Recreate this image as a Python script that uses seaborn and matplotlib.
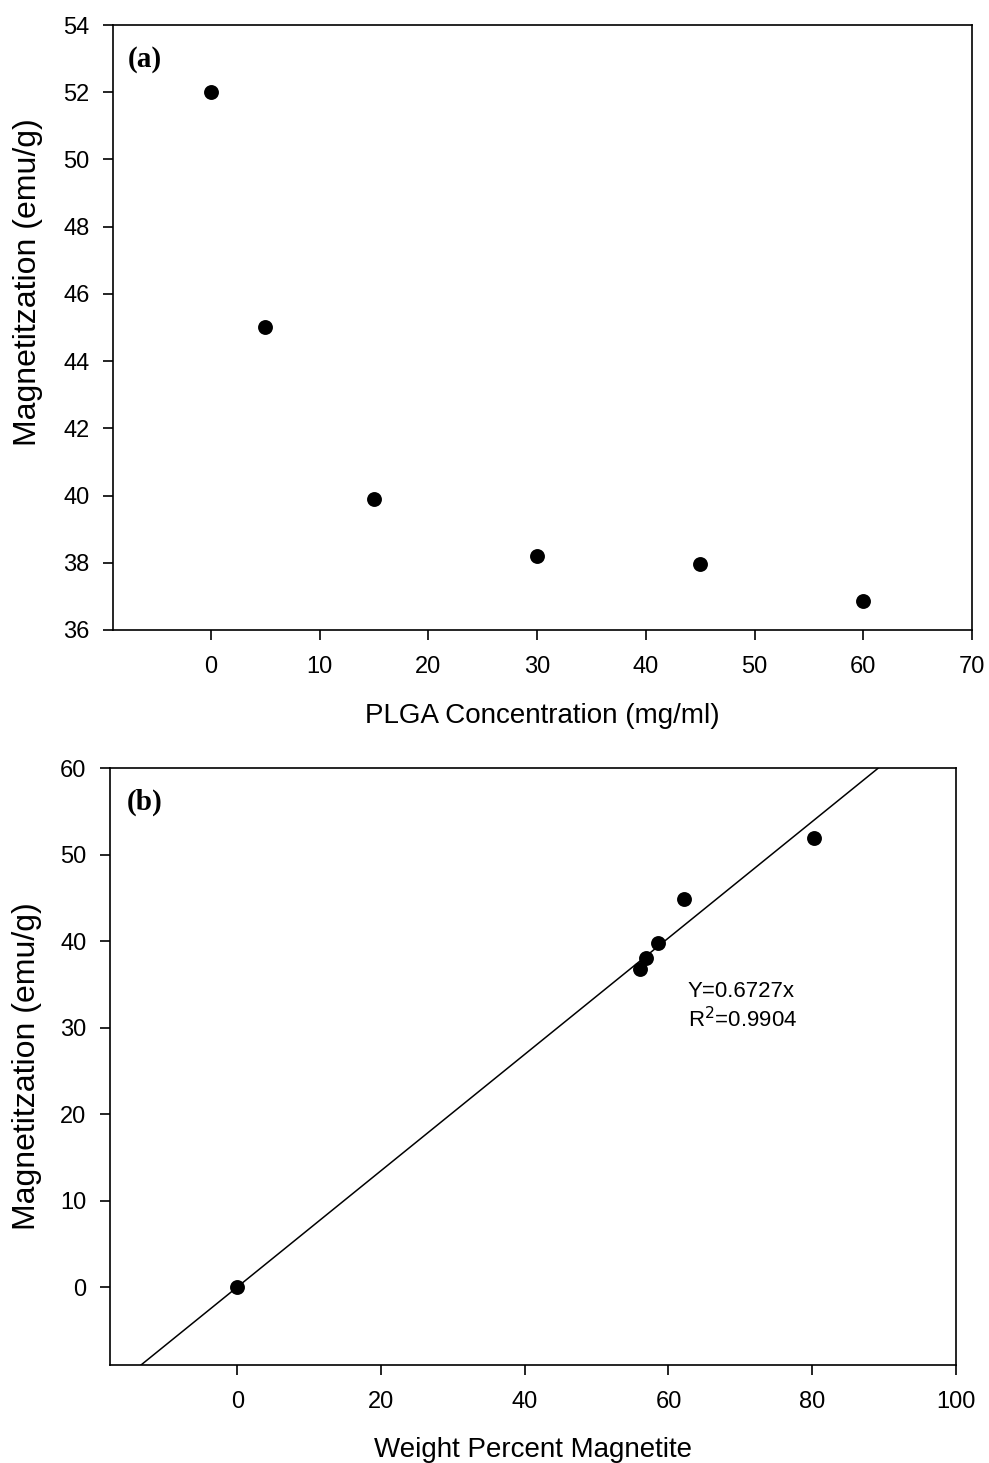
import numpy as np
import pandas as pd
import seaborn as sns
import matplotlib.pyplot as plt

# panel (a) data
plga_conc = [0, 5, 15, 30, 45, 60]
magnet_a = [52.0, 45.0, 39.9, 38.2, 37.95, 36.85]

# panel (b) data
wt_magnetite = [0, 56.1, 56.9, 58.5, 62.1, 80.3]
magnet_b = [0, 36.8, 38.0, 39.8, 44.9, 51.9]
slope = 0.6727

sns.set_style("ticks")
plt.rcParams['font.family'] = ['Liberation Sans', 'DejaVu Sans']
plt.rcParams['text.color'] = 'black'
plt.rcParams['axes.labelcolor'] = 'black'

fig = plt.figure(figsize=(9.89, 14.63), dpi=100)
ax1 = fig.add_axes([0.1143, 0.5694, 0.9828 - 0.1143, 0.9829 - 0.5694])
ax2 = fig.add_axes([0.1112, 0.067, 0.9666 - 0.1112, 0.475 - 0.067])

df_a = pd.DataFrame({'conc': plga_conc, 'mag': magnet_a})
sns.scatterplot(data=df_a, x='conc', y='mag', ax=ax1, color='black', s=115,
                edgecolor='black', linewidth=0, zorder=3)
ax1.set_xlim(-9, 70)
ax1.set_ylim(36, 54)
ax1.set_xticks(range(0, 71, 10))
ax1.set_yticks(range(36, 55, 2))
ax1.set_xlabel('PLGA Concentration (mg/ml)', fontsize=20, labelpad=18)
ax1.set_ylabel('Magnetitzation (emu/g)', fontsize=23)
ax1.yaxis.set_label_coords(-0.082, 0.575)
ax1.text(0.017, 0.965, '(a)', transform=ax1.transAxes, ha='left', va='top',
         fontsize=21, fontweight='bold', family='Liberation Serif')

df_b = pd.DataFrame({'wt': wt_magnetite, 'mag': magnet_b})
fit_x = np.array([-20, 100])
sns.lineplot(x=fit_x, y=slope * fit_x, ax=ax2, color='black', linewidth=1.1)
sns.scatterplot(data=df_b, x='wt', y='mag', ax=ax2, color='black', s=115,
                edgecolor='black', linewidth=0, zorder=3)
ax2.set_xlim(-17.7, 100)
ax2.set_ylim(-9, 60)
ax2.set_xticks(range(0, 101, 20))
ax2.set_yticks(range(0, 61, 10))
ax2.set_xlabel('Weight Percent Magnetite', fontsize=20, labelpad=17)
ax2.set_ylabel('Magnetitzation (emu/g)', fontsize=23, labelpad=13)
ax2.text(0.02, 0.965, '(b)', transform=ax2.transAxes, ha='left', va='top',
         fontsize=21, fontweight='bold', family='Liberation Serif')
ax2.text(62.7, 35.4, 'Y=0.6727x\nR$^2$=0.9904', fontsize=16, ha='left', va='top',
         linespacing=1.25)

for ax in (ax1, ax2):
    for sp in ax.spines.values():
        sp.set_visible(True)
        sp.set_linewidth(1.2)
        sp.set_color('black')
    ax.tick_params(axis='both', direction='out', length=7, width=1.2,
                   labelsize=17, colors='black')
    ax.tick_params(axis='y', pad=10)
    ax.tick_params(axis='x', pad=12)

fig.savefig('out.png', dpi=100, facecolor='white')
